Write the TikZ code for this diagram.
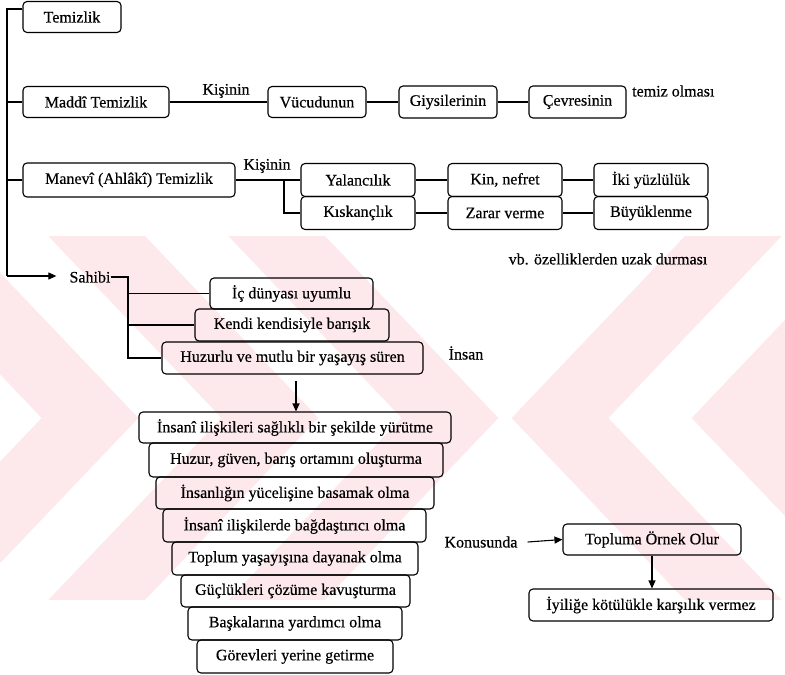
\documentclass[tikz,border=0pt]{standalone}
\usepackage{fontspec}
\setmainfont{Liberation Serif}
\newfontfamily\tnr[FakeBold=0.4]{Liberation Serif}
\usetikzlibrary{arrows.meta}
\definecolor{wm}{RGB}{253,232,236}
\begin{document}
\begin{tikzpicture}[x=1pt,y=-1pt,
  box/.style={draw, line width=1.1pt, rounded corners=4pt, inner sep=0pt, font=\tnr\fontsize{16}{19}\selectfont},
  lbl/.style={inner sep=0pt, font=\tnr\fontsize{16}{19}\selectfont},
  conn/.style={line width=1.1pt},
  arr/.style={line width=1.1pt, -{Triangle[length=8pt,width=7pt]}}]
\useasboundingbox (0,0) rectangle (785,675);
\fill[white] (0,0) rectangle (785,675);
% watermark
\begin{scope}
\clip (0,236) rectangle (785,599);
\foreach \v in {90,270,450} {
  \draw[wm, line width=70pt, miter limit=10] (\v-200,208) -- (\v,418) -- (\v-200,628);
}
\foreach \v in {560,740} {
  \draw[wm, line width=70pt, miter limit=10] (\v+200,208) -- (\v,418) -- (\v+200,628);
}
\end{scope}
% nodes
\node[box, minimum width=98pt, minimum height=31pt] (temizlik) at (72,17) {Temizlik};
\node[box, minimum width=146pt, minimum height=31pt] (maddi) at (96,102) {Maddî Temizlik};
\node[box, minimum width=98pt, minimum height=31pt] (vucut) at (317,102) {Vücudunun};
\node[box, minimum width=98pt, minimum height=32pt] (giysi) at (448,102) {Giysilerinin};
\node[box, minimum width=97pt, minimum height=32pt] (cevre) at (577.5,102) {Çevresinin};
\node[lbl] (kisinin1) at (226,91) {Kişinin};
\node[lbl, anchor=west] (temizol) at (632,91) {temiz olması};
\node[box, minimum width=212pt, minimum height=34pt] (manevi) at (129,180) {Manevî (Ahlâkî) Temizlik};
\node[lbl] (kisinin2) at (267,166) {Kişinin};
\node[box, minimum width=114pt, minimum height=33pt] (yalan) at (358,180) {Yalancılık};
\node[box, minimum width=114pt, minimum height=33pt] (kiskanc) at (358,213) {Kıskançlık};
\node[box, minimum width=114pt, minimum height=33pt] (kin) at (505,180) {Kin, nefret};
\node[box, minimum width=114pt, minimum height=33pt] (zarar) at (505,213) {Zarar verme};
\node[box, minimum width=114pt, minimum height=33pt] (iki) at (651,180) {İki yüzlülük};
\node[box, minimum width=114pt, minimum height=33pt] (buyuk) at (651,213) {Büyüklenme};
\node[lbl] (vb) at (608,259) {vb. özelliklerden uzak durması};
\node[lbl] (sahibi) at (90,277) {Sahibi};
\node[box, minimum width=163pt, minimum height=31pt] (ic) at (291.5,293.5) {İç dünyası uyumlu};
\node[box, minimum width=194pt, minimum height=32pt] (kendi) at (292,325) {Kendi kendisiyle barışık};
\node[box, minimum width=261pt, minimum height=32pt] (huzurlu) at (292.5,358) {Huzurlu ve mutlu bir yaşayış süren};
\node[lbl] (insan) at (466,353) {İnsan};
\node[box, minimum width=312pt, minimum height=31pt] (b1) at (295,427.5) {İnsanî ilişkileri sağlıklı bir şekilde yürütme};
\node[box, minimum width=294pt, minimum height=34pt] (b2) at (296,460) {Huzur, güven, barış ortamını oluşturma};
\node[box, minimum width=278pt, minimum height=32pt] (b3) at (295,493) {İnsanlığın yücelişine basamak olma};
\node[box, minimum width=263pt, minimum height=33pt] (b4) at (294.5,525.5) {İnsanî ilişkilerde bağdaştırıcı olma};
\node[box, minimum width=246pt, minimum height=33pt] (b5) at (295,558.5) {Toplum yaşayışına dayanak olma};
\node[box, minimum width=229pt, minimum height=32pt] (b6) at (295.5,591) {Güçlükleri çözüme kavuşturma};
\node[box, minimum width=214pt, minimum height=33pt] (b7) at (295,623.5) {Başkalarına yardımcı olma};
\node[box, minimum width=196pt, minimum height=33pt] (b8) at (295,656.5) {Görevleri yerine getirme};
\node[lbl] (konu) at (481,542) {Konusunda};
\node[box, minimum width=178pt, minimum height=31pt] (topluma) at (652,539.5) {Topluma Örnek Olur};
\node[box, minimum width=244pt, minimum height=32pt] (iyilik) at (651,605) {İyiliğe kötülükle karşılık vermez};
% connectors
\coordinate (sptop) at (7,9);
\coordinate (spbot) at (7,276);
\draw[conn] (temizlik.west |- sptop) -- (sptop) -- (spbot);
\draw[arr] (spbot) -- ([xshift=-13pt]sahibi.west |- spbot);
\draw[conn] (sptop |- maddi.west) -- (maddi.west);
\draw[conn] (sptop |- manevi.west) -- (manevi.west);
\draw[conn] (maddi.east) -- (vucut.west);
\draw[conn] (vucut.east) -- (giysi.west);
\draw[conn] (giysi.east) -- (cevre.west);
\coordinate (m3) at (284,180);
\draw[conn] (manevi.east) -- (yalan.west);
\draw[conn] (m3) |- (kiskanc.west);
\draw[conn] (yalan.east) -- (kin.west);
\draw[conn] (kin.east) -- (iki.west);
\draw[conn] (kiskanc.east) -- (zarar.west);
\draw[conn] (zarar.east) -- (buyuk.west);
\coordinate (sv) at (128,277);
\draw[conn] (sahibi.east) -- (sv) -- (sv |- huzurlu.west) -- (huzurlu.west);
\draw[conn] (sv |- ic.west) -- (ic.west);
\draw[conn] (sv |- kendi.west) -- (kendi.west);
\coordinate (a1) at (296,381);
\draw[arr] (a1) -- (a1 |- b1.north);
\draw[arr] ([xshift=10pt]konu.east) -- (topluma.west);
\draw[arr] (topluma.south) -- (topluma.south |- iyilik.north);
\end{tikzpicture}
\end{document}
